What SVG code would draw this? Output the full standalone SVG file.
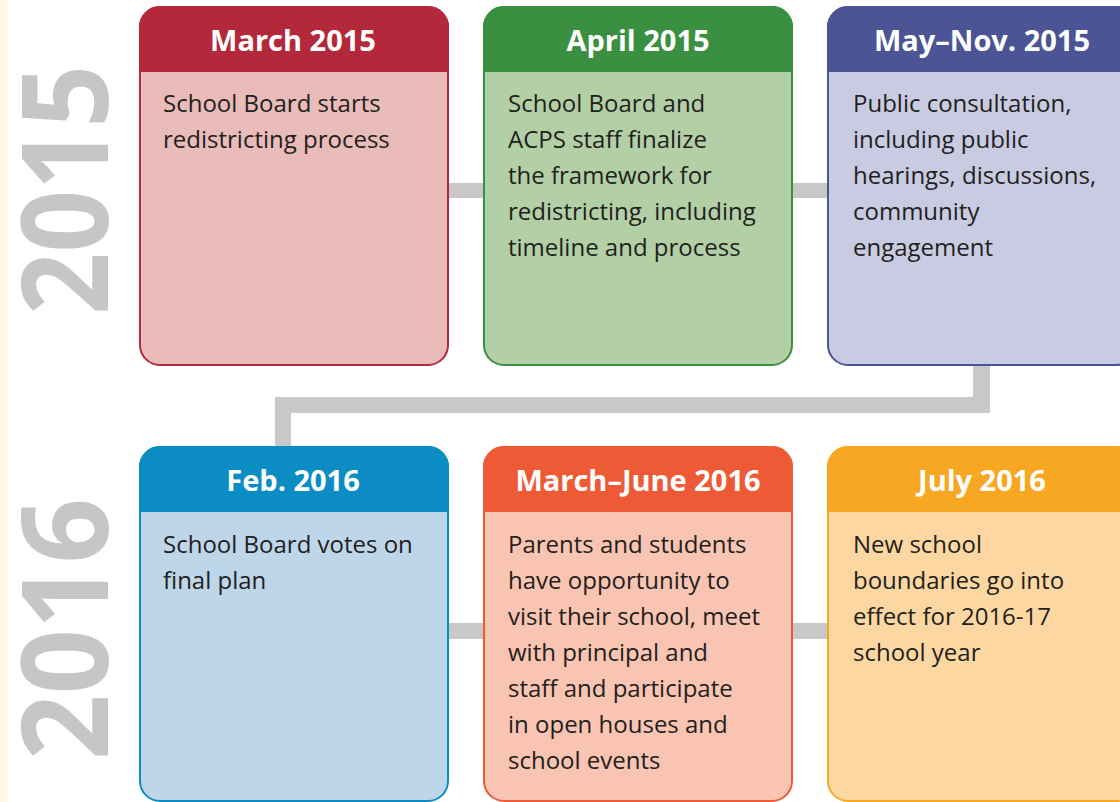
<svg xmlns="http://www.w3.org/2000/svg" width="1120" height="802" viewBox="0 0 1120 802">
<style>
.year{font-family:"Open Sans","Liberation Sans",sans-serif;font-weight:700;font-size:120px;fill:#c6c6c6}
.hd{font-family:"Open Sans","Liberation Sans",sans-serif;font-weight:700;font-size:29px;fill:#ffffff;text-anchor:middle}
.bd{font-family:"Open Sans","Liberation Sans",sans-serif;font-size:24px;fill:#231f20}
.conn{fill:#c8c8c8}
</style>
<rect x="0" y="0" width="1120" height="802" fill="#ffffff"/>
<rect x="0" y="0" width="8" height="802" fill="#fdf8e6"/>
<text class="year" transform="translate(108,315) rotate(-90)" textLength="250" lengthAdjust="spacingAndGlyphs">2015</text>
<text class="year" transform="translate(108,760) rotate(-90)" textLength="262" lengthAdjust="spacingAndGlyphs">2016</text>
<g id="connectors">
<rect class="conn" x="446" y="183" width="40" height="15"/>
<rect class="conn" x="790" y="183" width="40" height="15"/>
<rect class="conn" x="973" y="362" width="17" height="51"/>
<rect class="conn" x="275" y="397" width="715" height="16"/>
<rect class="conn" x="275" y="397" width="16" height="52"/>
<rect class="conn" x="446" y="623" width="40" height="16"/>
<rect class="conn" x="790" y="623" width="40" height="16"/>
</g>
<g id="n1">
<rect x="140" y="7" width="308" height="358" rx="20" fill="#e9bbb9" stroke="#b3293b" stroke-width="2"/>
<path d="M140,71 V27 A20,20 0 0 1 160,7 H428 A20,20 0 0 1 448,27 V71 Z" fill="#b3293b" stroke="#b3293b" stroke-width="2"/>
<text class="hd" x="293" y="51">March 2015</text>
<text class="bd" x="163" y="112">School Board starts</text>
<text class="bd" x="163" y="148">redistricting process</text>
</g>
<g id="n2">
<rect x="484" y="7" width="308" height="358" rx="20" fill="#b2cfa5" stroke="#3a8f40" stroke-width="2"/>
<path d="M484,71 V27 A20,20 0 0 1 504,7 H772 A20,20 0 0 1 792,27 V71 Z" fill="#3a8f40" stroke="#3a8f40" stroke-width="2"/>
<text class="hd" x="638" y="51">April 2015</text>
<text class="bd" x="508" y="112">School Board and</text>
<text class="bd" x="508" y="148">ACPS staff finalize</text>
<text class="bd" x="508" y="184">the framework for</text>
<text class="bd" x="508" y="220">redistricting, including</text>
<text class="bd" x="508" y="256">timeline and process</text>
</g>
<g id="n3">
<rect x="828" y="7" width="308" height="358" rx="20" fill="#c9cbe3" stroke="#4b5596" stroke-width="2"/>
<path d="M828,71 V27 A20,20 0 0 1 848,7 H1116 A20,20 0 0 1 1136,27 V71 Z" fill="#4b5596" stroke="#4b5596" stroke-width="2"/>
<text class="hd" x="982" y="51">May–Nov. 2015</text>
<text class="bd" x="853" y="112">Public consultation,</text>
<text class="bd" x="853" y="148">including public</text>
<text class="bd" x="853" y="184">hearings, discussions,</text>
<text class="bd" x="853" y="220">community</text>
<text class="bd" x="853" y="256">engagement</text>
</g>
<g id="n4">
<rect x="140" y="447" width="308" height="354" rx="20" fill="#bdd6ea" stroke="#0b8dc3" stroke-width="2"/>
<path d="M140,511 V467 A20,20 0 0 1 160,447 H428 A20,20 0 0 1 448,467 V511 Z" fill="#0b8dc3" stroke="#0b8dc3" stroke-width="2"/>
<text class="hd" x="293" y="491">Feb. 2016</text>
<text class="bd" x="163" y="553">School Board votes on</text>
<text class="bd" x="163" y="589">final plan</text>
</g>
<g id="n5">
<rect x="484" y="447" width="308" height="354" rx="20" fill="#f9c4b1" stroke="#ef5a36" stroke-width="2"/>
<path d="M484,511 V467 A20,20 0 0 1 504,447 H772 A20,20 0 0 1 792,467 V511 Z" fill="#ef5a36" stroke="#ef5a36" stroke-width="2"/>
<text class="hd" x="638" y="491">March–June 2016</text>
<text class="bd" x="508" y="553">Parents and students</text>
<text class="bd" x="508" y="589">have opportunity to</text>
<text class="bd" x="508" y="625">visit their school, meet</text>
<text class="bd" x="508" y="661">with principal and</text>
<text class="bd" x="508" y="697">staff and participate</text>
<text class="bd" x="508" y="733">in open houses and</text>
<text class="bd" x="508" y="769">school events</text>
</g>
<g id="n6">
<rect x="828" y="447" width="308" height="354" rx="20" fill="#fdd7a1" stroke="#f7a722" stroke-width="2"/>
<path d="M828,511 V467 A20,20 0 0 1 848,447 H1116 A20,20 0 0 1 1136,467 V511 Z" fill="#f7a722" stroke="#f7a722" stroke-width="2"/>
<text class="hd" x="982" y="491">July 2016</text>
<text class="bd" x="853" y="553">New school</text>
<text class="bd" x="853" y="589">boundaries go into</text>
<text class="bd" x="853" y="625">effect for 2016-17</text>
<text class="bd" x="853" y="661">school year</text>
</g>
</svg>
